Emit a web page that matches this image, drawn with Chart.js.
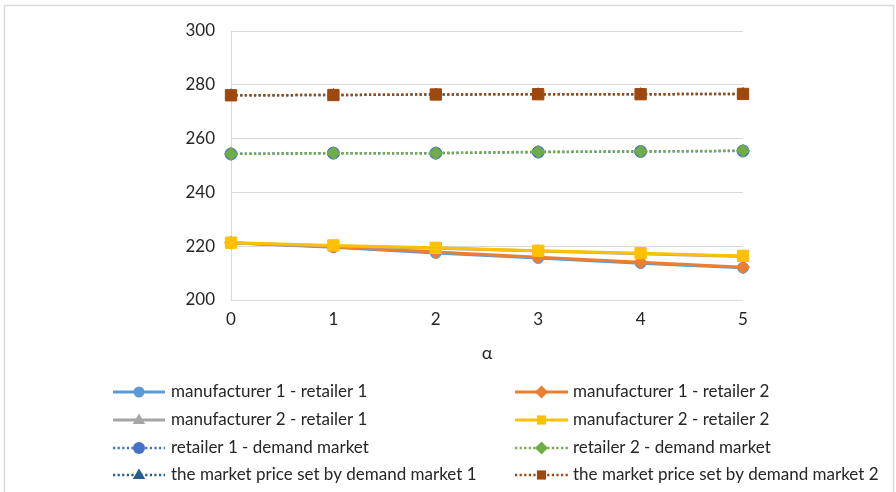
<!DOCTYPE html>
<html>
<head>
<meta charset="utf-8">
<script src="https://cdn.jsdelivr.net/npm/chart.js@4/dist/chart.umd.min.js"></script>
<style>
  html, body { margin: 0; padding: 0; background: #ffffff; }
  #wrap { position: relative; width: 896px; height: 492px; }
</style>
</head>
<body>
<div id="wrap"><canvas id="c" width="896" height="492"></canvas></div>
<script>
// α values on the horizontal axis
const alphaLabels = ['0', '1', '2', '3', '4', '5'];

// prices along each link of the supply chain
const manufacturer1Retailer1 = [221.3, 219.6, 217.5, 215.6, 213.7, 212.0];
const manufacturer1Retailer2 = [221.3, 219.8, 217.8, 215.9, 214.0, 212.2];
const manufacturer2Retailer1 = [221.2, 220.1, 219.2, 218.2, 217.2, 216.2];
const manufacturer2Retailer2 = [221.3, 220.3, 219.4, 218.3, 217.4, 216.4];
const retailer1Demand = [254.3, 254.6, 254.6, 255.0, 255.2, 255.4];
const retailer2Demand = [254.3, 254.6, 254.6, 255.1, 255.2, 255.5];
const marketPrice1 = [276.1, 276.2, 276.4, 276.5, 276.5, 276.6];
const marketPrice2 = [276.1, 276.2, 276.4, 276.5, 276.5, 276.6];

// y axis ticks
const yTicks = [200, 220, 240, 260, 280, 300];

const FONT = 'Lato, "Open Sans", sans-serif';
const DOTS = [2.2, 2.4];

function series(label, data, color, style, radius, dotted, layer) {
  return {
    label, data,
    order: layer,               // later series are painted on top
    borderColor: color,
    backgroundColor: color,
    pointBackgroundColor: color,
    pointBorderColor: color,
    pointStyle: style,
    pointRadius: radius,
    pointHoverRadius: radius,
    pointBorderWidth: 1,
    borderWidth: dotted ? 2.5 : 3,
    borderDash: dotted ? DOTS : [],
    borderCapStyle: 'butt',
    tension: 0,
    fill: false
  };
}

const datasets = [
  series('manufacturer 1 - retailer 1', manufacturer1Retailer1, '#5B9BD5', 'circle', 5.5, false, 8),
  series('manufacturer 1 - retailer 2', manufacturer1Retailer2, '#ED7D31', 'rectRot', 6.5, false, 7),
  series('manufacturer 2 - retailer 1', manufacturer2Retailer1, '#A5A5A5', 'triangle', 6.5, false, 6),
  series('manufacturer 2 - retailer 2', manufacturer2Retailer2, '#FFC000', 'rect', 8, false, 5),
  series('retailer 1 - demand market', retailer1Demand, '#4472C4', 'circle', 6, true, 4),
  series('retailer 2 - demand market', retailer2Demand, '#70AD47', 'rectRot', 6.5, true, 3),
  series('the market price set by demand market 1', marketPrice1, '#255E91', 'triangle', 6.5, true, 2),
  series('the market price set by demand market 2', marketPrice2, '#9E480E', 'rect', 8, true, 1)
];

// marker shapes for the legend swatches
function marker(ctx, style, x, y, r) {
  ctx.beginPath();
  if (style === 'circle') {
    ctx.arc(x, y, r, 0, Math.PI * 2);
  } else if (style === 'rectRot') {
    ctx.moveTo(x, y - r); ctx.lineTo(x + r, y); ctx.lineTo(x, y + r); ctx.lineTo(x - r, y);
    ctx.closePath();
  } else if (style === 'triangle') {
    ctx.moveTo(x, y - r); ctx.lineTo(x + r * 0.95, y + r * 0.6); ctx.lineTo(x - r * 0.95, y + r * 0.6);
    ctx.closePath();
  } else {
    const s = r * Math.SQRT1_2;
    ctx.rect(x - s, y - s, 2 * s, 2 * s);
  }
  ctx.fill();
}

// two-column legend under the plot
const gridLegend = {
  id: 'gridLegend',
  afterDraw(chart) {
    const ctx = chart.ctx;
    const cols = [{ x0: 113, x1: 165, tx: 171 }, { x0: 515, x1: 568, tx: 573 }];
    const rows = [392, 420, 448, 475];
    ctx.save();
    chart.data.datasets.forEach((ds, i) => {
      const col = cols[i % 2];
      const y = rows[Math.floor(i / 2)];
      ctx.strokeStyle = ds.borderColor;
      ctx.fillStyle = ds.borderColor;
      ctx.lineWidth = ds.borderWidth;
      ctx.setLineDash(ds.borderDash);
      ctx.lineCap = 'butt';
      ctx.beginPath();
      ctx.moveTo(col.x0, y);
      ctx.lineTo(col.x1, y);
      ctx.stroke();
      ctx.setLineDash([]);
      marker(ctx, ds.pointStyle, (col.x0 + col.x1) / 2, y, Math.min(ds.pointRadius, 6.5));
      ctx.fillStyle = '#262626';
      ctx.font = '17px ' + FONT;
      ctx.textBaseline = 'middle';
      ctx.textAlign = 'left';
      ctx.fillText(ds.label, col.tx, y);
    });
    ctx.restore();
  }
};

// thin frame around the chart
const frame = {
  id: 'frame',
  beforeDraw(chart) {
    const ctx = chart.ctx;
    ctx.save();
    ctx.strokeStyle = '#D9D9D9';
    ctx.lineWidth = 1.5;
    ctx.beginPath();
    ctx.moveTo(4.5, 495);
    ctx.lineTo(4.5, 5.5);
    ctx.lineTo(893.5, 5.5);
    ctx.lineTo(893.5, 495);
    ctx.stroke();
    ctx.restore();
  }
};

new Chart(document.getElementById('c'), {
  type: 'line',
  data: { labels: alphaLabels, datasets },
  options: {
    responsive: false,
    animation: false,
    layout: { padding: { left: 0, right: 153, top: 31, bottom: 122 } },
    plugins: { legend: { display: false }, tooltip: { enabled: false } },
    scales: {
      x: {
        type: 'category',
        offset: false,
        grid: { display: false, drawTicks: false },
        border: { display: false },
        ticks: { color: '#262626', font: { family: FONT, size: 17 }, padding: 9, maxRotation: 0 },
        title: {
          display: true, text: 'α', color: '#262626',
          font: { family: FONT, size: 18 }, padding: { top: 0, bottom: 6 }
        },
        afterFit(scale) { scale.height = 70; }
      },
      y: {
        min: 200, max: 300,
        afterBuildTicks(scale) { scale.ticks = yTicks.map(v => ({ value: v })); },
        grid: { color: '#D9D9D9', lineWidth: 1, drawTicks: false },
        border: { display: true, color: '#D9D9D9', width: 1 },
        ticks: { color: '#262626', font: { family: FONT, size: 17 }, padding: 16 },
        afterFit(scale) { scale.width = 231; }
      }
    }
  },
  plugins: [frame, gridLegend]
});
</script>
</body>
</html>
